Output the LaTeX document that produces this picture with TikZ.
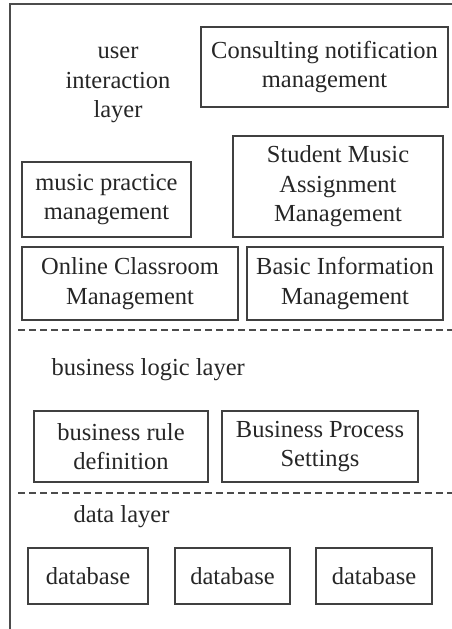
\documentclass[tikz,border=0pt]{standalone}
\usepackage{fontspec}
\setmainfont{Liberation Serif}
\begin{document}
\begin{tikzpicture}[x=1pt,y=-1pt,
  every node/.style={font=\fontsize{24.5}{29.5}\selectfont, text=black!85},
  modbox/.style={draw=black!75, line width=1.2pt, rectangle, align=center, inner sep=0pt},
  label/.style={align=center},
  layersep/.style={draw=black!70, line width=1.2pt, dash pattern=on 7pt off 4pt},
  frame/.style={draw=black!70, line width=2pt}]
\useasboundingbox (0,0) rectangle (452,629);
% outer frame (open to the right and bottom)
\draw[frame] (10,629) -- (10,4) -- (452,4);

% user interaction layer
\node[label] (uil) at (118,85) {user\\interaction\\layer};
\node[modbox, minimum width=247, minimum height=80] (cons) at (324.5,67) {Consulting notification\\management};
\node[modbox, minimum width=169, minimum height=75] (prac) at (106.5,199.5) {music practice\\management};
\node[modbox, minimum width=210, minimum height=101] (assign) at (338,186.5) {Student Music\\Assignment\\Management};
\node[modbox, minimum width=216, minimum height=73] (online) at (130,283.5) {Online Classroom\\Management};
\node[modbox, minimum width=196, minimum height=73] (basic) at (345,283.5) {Basic Information\\Management};

\coordinate (s1a) at (18,330);
\coordinate (s1b) at (452,330);
\draw[layersep] (s1a) -- (s1b);

% business logic layer
\node[label, anchor=west] (bll) at (48,370) {business logic layer};
\node[modbox, minimum width=174, minimum height=71] (rule) at (121,446.5) {business rule\\definition};
\node[modbox, minimum width=196, minimum height=71] (proc) at (320,446.5) {Business Process\\Settings};

\coordinate (s2a) at (18,493);
\coordinate (s2b) at (452,493);
\draw[layersep] (s2a) -- (s2b);

% data layer
\node[label, anchor=west] (dl) at (70,517) {data layer};
\node[modbox, minimum width=120, minimum height=56] (db1) at (88,576) {database};
\node[modbox, minimum width=115, minimum height=56] (db2) at (232.5,576) {database};
\node[modbox, minimum width=116, minimum height=56] (db3) at (374,576) {database};
\end{tikzpicture}
\end{document}
